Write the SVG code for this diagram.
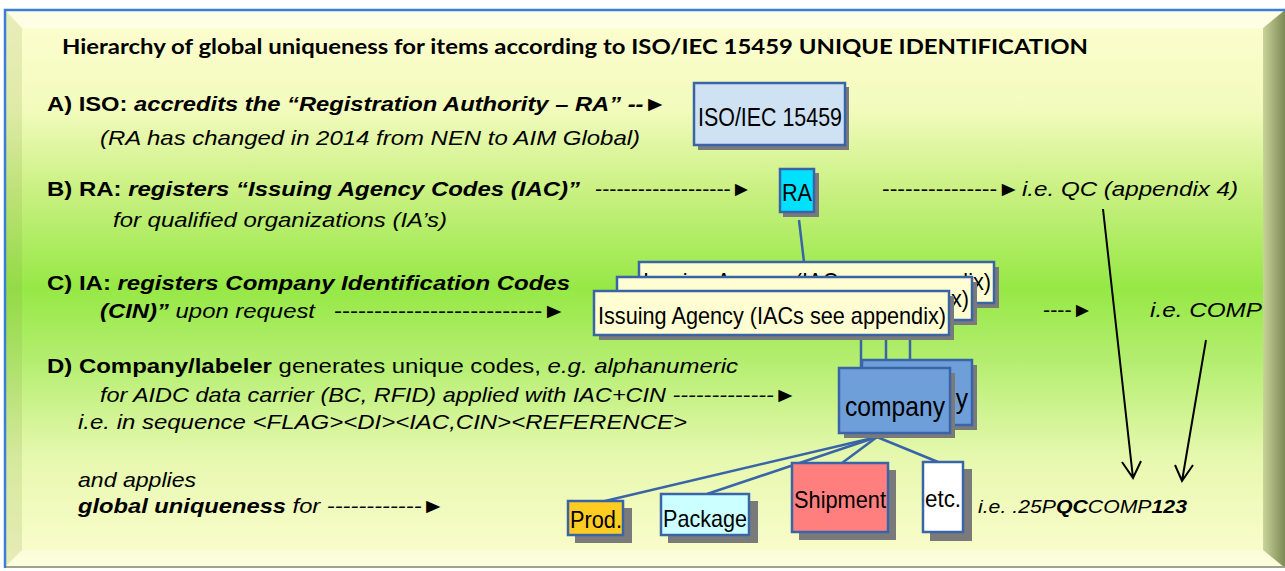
<svg xmlns="http://www.w3.org/2000/svg" width="1285" height="571" viewBox="0 0 1285 571">
<defs>
<linearGradient id="bg" x1="0" y1="0" x2="0" y2="1">
<stop offset="0" stop-color="#fefed2"/>
<stop offset="0.18" stop-color="#f2fbbc"/>
<stop offset="0.33" stop-color="#c8f080"/>
<stop offset="0.5" stop-color="#96e846"/>
<stop offset="0.63" stop-color="#b4ee70"/>
<stop offset="0.8" stop-color="#e6f8ae"/>
<stop offset="1" stop-color="#fcfdcf"/>
</linearGradient>
<linearGradient id="rb" x1="0" y1="0" x2="1" y2="0">
<stop offset="0" stop-color="#c9d49a"/>
<stop offset="1" stop-color="#7d8a55"/>
</linearGradient>
<style>
.t{font-family:"Liberation Sans",Arial,sans-serif;font-size:21px;fill:#000}
.b{font-weight:bold}
.i{font-style:italic}
.ttl{font-family:Lato,"Open Sans",sans-serif;font-weight:bold;font-size:20px;fill:#000}
.sh{fill:#7a7a7a}
.box{stroke:#3a64a8;stroke-width:2.5}
.nt{font-family:"Liberation Sans",Arial,sans-serif;fill:#000}
.con{stroke:#3a64a8;stroke-width:2.5;fill:none}
.blk{stroke:#000;stroke-width:2;fill:none}
</style>
</defs>
<g id="panel">
<rect x="4" y="9" width="1281" height="559" fill="url(#bg)"/>
<polygon points="5,10 1285,10 1263,28 22,28" fill="#ffffff" opacity="0.45"/>
<polygon points="5,10 22,28 22,550 5,567" fill="#8aa050" opacity="0.18"/>
<polygon points="1285,10 1263,28 1263,550 1285,568" fill="url(#rb)"/>
<polygon points="5,567 22,550 1263,550 1285,568" fill="#ffffff" opacity="0.3"/>
<line x1="4" y1="567" x2="1285" y2="567" stroke="#a0a090" stroke-width="2"/>
<path d="M5,568 V10 H1285" stroke="#3b7ed6" stroke-width="2.5" fill="none"/>
</g>
<g id="texts">
<text class="ttl" x="62" y="54" textLength="1026" lengthAdjust="spacingAndGlyphs">Hierarchy of global uniqueness for items according to ISO/IEC 15459 UNIQUE IDENTIFICATION</text>
<text class="t b" x="47" y="111" textLength="620" lengthAdjust="spacingAndGlyphs">A) ISO: <tspan class="i">accredits the “Registration Authority – RA” --►</tspan></text>
<text class="t i" x="100" y="145" textLength="540" lengthAdjust="spacingAndGlyphs">(RA has changed in 2014 from NEN to AIM Global)</text>
<text class="t b" x="47" y="196" textLength="533" lengthAdjust="spacingAndGlyphs">B) RA: <tspan class="i">registers “Issuing Agency Codes (IAC)”</tspan></text>
<text class="t" x="595" y="196" textLength="157" lengthAdjust="spacingAndGlyphs">-------------------►</text>
<text class="t" x="882" y="196" textLength="138" lengthAdjust="spacingAndGlyphs">---------------►</text>
<text class="t i" x="1022" y="196" textLength="216" lengthAdjust="spacingAndGlyphs">i.e. QC (appendix 4)</text>
<text class="t i" x="113" y="227" textLength="334" lengthAdjust="spacingAndGlyphs">for qualified organizations (IA’s)</text>
<text class="t b" x="47" y="290" textLength="523" lengthAdjust="spacingAndGlyphs">C) IA: <tspan class="i">registers Company Identification Codes</tspan></text>
<text class="t i" x="100" y="318" textLength="215" lengthAdjust="spacingAndGlyphs"><tspan class="b">(CIN)”</tspan> upon request</text>
<text class="t" x="334" y="318" textLength="232" lengthAdjust="spacingAndGlyphs">--------------------------►</text>
<text class="t" x="1043" y="317" textLength="50" lengthAdjust="spacingAndGlyphs">----►</text>
<text class="t i" x="1150" y="317" textLength="112" lengthAdjust="spacingAndGlyphs">i.e. COMP</text>
<text class="t" x="47" y="373" textLength="691" lengthAdjust="spacingAndGlyphs"><tspan class="b">D) Company/labeler</tspan> generates unique codes, <tspan class="i">e.g. alphanumeric</tspan></text>
<text class="t i" x="100" y="402" textLength="697" lengthAdjust="spacingAndGlyphs">for AIDC data carrier (BC, RFID) applied with IAC+CIN -------------►</text>
<text class="t i" x="78" y="429" textLength="609" lengthAdjust="spacingAndGlyphs">i.e. in sequence &lt;FLAG&gt;&lt;DI&gt;&lt;IAC,CIN&gt;&lt;REFERENCE&gt;</text>
<text class="t i" x="78" y="487" textLength="118" lengthAdjust="spacingAndGlyphs">and applies</text>
<text class="t i" x="78" y="513" textLength="367" lengthAdjust="spacingAndGlyphs"><tspan class="b">global uniqueness</tspan> for ------------►</text>
<text class="t i" x="978" y="513" style="font-size:18px" textLength="209" lengthAdjust="spacingAndGlyphs">i.e. .25P<tspan class="b">QC</tspan>COMP<tspan class="b">123</tspan></text>
</g>
<g id="connectors">
<line class="con" x1="799" y1="220" x2="804" y2="262"/>
<line class="con" x1="861" y1="335" x2="861" y2="368"/>
<line class="con" x1="886" y1="320" x2="886" y2="360"/>
<line class="con" x1="910" y1="305" x2="910" y2="360"/>
<line class="con" x1="877" y1="437" x2="605" y2="501"/>
<line class="con" x1="877" y1="437" x2="707" y2="494"/>
<line class="con" x1="877" y1="437" x2="842" y2="463"/>
<line class="con" x1="877" y1="437" x2="938" y2="462"/>
<path class="blk" d="M1103,209 L1133,478 M1122,462 L1133,478 L1141,461"/>
<path class="blk" d="M1206,340 L1182,481 M1175,465 L1182,481 L1193,465"/>
</g>
<g id="iso">
<rect class="sh" x="698" y="87" width="151" height="63"/>
<rect class="box" x="694" y="83" width="151" height="62" fill="#cfe2f3"/>
<text class="nt" x="698" y="126" font-size="25" textLength="144" lengthAdjust="spacingAndGlyphs">ISO/IEC 15459</text>
</g>
<g id="ra">
<rect class="sh" x="783" y="173" width="36" height="44"/>
<rect class="box" x="780" y="169" width="34" height="43" fill="#00e0ff"/>
<text class="nt" x="782" y="201" font-size="24" textLength="30" lengthAdjust="spacingAndGlyphs">RA</text>
</g>
<g id="ia3">
<rect class="sh" x="644" y="267" width="355" height="41"/>
<rect class="box" x="639" y="262" width="355" height="41" fill="#fefed2"/>
<text class="nt" x="643" y="290" font-size="24" textLength="348" lengthAdjust="spacingAndGlyphs">Issuing Agency (IACs see appendix)</text>
</g>
<g id="ia2">
<rect class="sh" x="622" y="282" width="355" height="43"/>
<rect class="box" x="617" y="277" width="355" height="43" fill="#fefed2"/>
<text class="nt" x="621" y="307" font-size="24" textLength="348" lengthAdjust="spacingAndGlyphs">Issuing Agency (IACs see appendix)</text>
</g>
<g id="ia1">
<rect class="sh" x="599" y="296" width="355" height="44"/>
<rect class="box" x="594" y="291" width="355" height="44" fill="#fefed2"/>
<text class="nt" x="598" y="324" font-size="24" textLength="348" lengthAdjust="spacingAndGlyphs">Issuing Agency (IACs see appendix)</text>
</g>
<g id="company2">
<rect class="sh" x="867" y="365" width="110" height="65"/>
<rect class="box" x="862" y="360" width="110" height="65" fill="#6f9fd8"/>
<text class="nt" x="868" y="408" font-size="28" textLength="100" lengthAdjust="spacingAndGlyphs">company</text>
</g>
<g id="company1">
<rect class="sh" x="844" y="373" width="111" height="65"/>
<rect class="box" x="839" y="368" width="111" height="65" fill="#6f9fd8"/>
<text class="nt" x="845" y="416" font-size="28" textLength="100" lengthAdjust="spacingAndGlyphs">company</text>
</g>
<g id="prod">
<rect class="sh" x="575" y="508" width="57" height="35"/>
<rect class="box" x="568" y="501" width="55" height="34" fill="#ffcc22"/>
<text class="nt" x="570" y="528" font-size="23" textLength="52" lengthAdjust="spacingAndGlyphs">Prod.</text>
</g>
<g id="package">
<rect class="sh" x="668" y="501" width="90" height="42"/>
<rect class="box" x="661" y="494" width="88" height="41" fill="#ccffff"/>
<text class="nt" x="663" y="527" font-size="24" textLength="84" lengthAdjust="spacingAndGlyphs">Package</text>
</g>
<g id="shipment">
<rect class="sh" x="799" y="470" width="97" height="70"/>
<rect class="box" x="792" y="463" width="96" height="69" fill="#ff7f7f"/>
<text class="nt" x="794" y="508" font-size="24" textLength="92" lengthAdjust="spacingAndGlyphs">Shipment</text>
</g>
<g id="etc">
<rect class="sh" x="930" y="469" width="42" height="72"/>
<rect class="box" x="923" y="462" width="40" height="70" fill="#ffffff"/>
<text class="nt" x="925" y="507" font-size="24" textLength="36" lengthAdjust="spacingAndGlyphs">etc.</text>
</g>
</svg>
